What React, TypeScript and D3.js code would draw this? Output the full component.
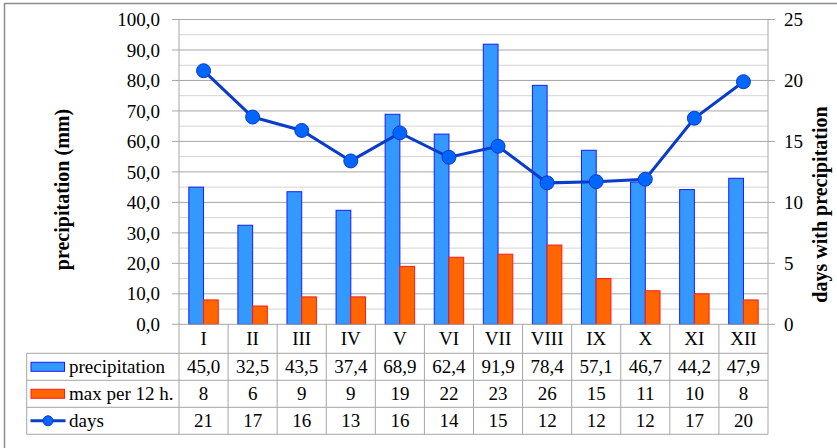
import React from "react";
import * as d3 from "d3";

const months = ["I", "II", "III", "IV", "V", "VI", "VII", "VIII", "IX", "X", "XI", "XII"];
const precipitation = [45.0, 32.5, 43.5, 37.4, 68.9, 62.4, 91.9, 78.4, 57.1, 46.7, 44.2, 47.9];
const maxPer12h = [8, 6, 9, 9, 19, 22, 23, 26, 15, 11, 10, 8];
// plotted days (the table shows them rounded)
const days = [20.8, 17.0, 15.9, 13.4, 15.7, 13.7, 14.6, 11.6, 11.7, 11.9, 16.9, 19.9];
const leftTicks = [0, 10, 20, 30, 40, 50, 60, 70, 80, 90, 100];
const rightTicks = [0, 5, 10, 15, 20, 25];
const seriesNames = ["precipitation", "max per 12 h.", "days"];

const W = 837;
const H = 448;
const plot = { left: 179, right: 768, top: 19.5, bottom: 324.3 };
const rowTops = [353.3, 380.3, 407.3, 434.3];
const legendLeft = 26.7;
const font = "Liberation Serif, Times New Roman, DejaVu Serif, serif";
const fs = 19;

const blueFill = "#3399ff";
const blueStroke = "#1a1aff";
const orangeFill = "#ff6600";
const orangeStroke = "#ff1a1a";
const lineColor = "#0a3ccc";
const dotFill = "#0066ff";
const gridMajor = "#a6a6a6";
const gridMinor = "#d4d4d4";
const tableLine = "#a6a6a6";

const comma1 = (v: number) => d3.format(".1f")(v).replace(".", ",");

export default function App() {
  const x = d3
    .scaleBand<string>()
    .domain(months)
    .range([plot.left, plot.right])
    .paddingInner(0.4)
    .paddingOuter(0.2);
  const step = x.step();
  const xs = d3
    .scaleBand<string>()
    .domain(["p", "m"])
    .range([0, x.bandwidth()]);
  const y = d3.scaleLinear().domain([0, 100]).range([plot.bottom, plot.top]);
  const yRight = d3.scaleLinear().domain([0, 25]).range([plot.bottom, plot.top]);
  const cx = (m: string) => (x(m) as number) + x.bandwidth() / 2;
  // band column edges
  const colLeft = (i: number) => plot.left + i * step;

  const line = d3
    .line<number>()
    .x((_, i) => cx(months[i]))
    .y((d) => yRight(d));

  const minorTicks = d3.range(5, 100, 10);

  const rows = [
    precipitation.map(comma1),
    maxPer12h.map((v) => d3.format(".0f")(v)),
    days.map((v) => d3.format(".0f")(v)),
  ];
  const rowMid = (r: number) => (rowTops[r] + rowTops[r + 1]) / 2;

  return (
    <svg
      width={W}
      height={H}
      style={{ position: "absolute", left: 0, top: 0, background: "#fff", fontFamily: font }}
    >
      <rect x={4.5} y={3.5} width={W + 10} height={H + 10} fill="#fff" stroke="#8c8c8c" strokeWidth={1.5} />

      {/* gridlines */}
      {minorTicks.map((t) => (
        <line key={"mn" + t} x1={plot.left} x2={plot.right} y1={y(t)} y2={y(t)} stroke={gridMinor} />
      ))}
      {leftTicks.slice(1).map((t) => (
        <line key={"mj" + t} x1={plot.left} x2={plot.right} y1={y(t)} y2={y(t)} stroke={gridMajor} />
      ))}

      {/* left axis */}
      <line x1={plot.left} x2={plot.left} y1={plot.top} y2={rowTops[3]} stroke={tableLine} />
      {leftTicks.map((t) => (
        <g key={"lt" + t}>
          <line x1={plot.left - 7} x2={plot.left} y1={y(t)} y2={y(t)} stroke={gridMajor} />
          <text x={160} y={y(t)} dy="0.35em" textAnchor="end" fontSize={fs} fill="#000">
            {comma1(t)}
          </text>
        </g>
      ))}

      {/* right axis */}
      <line x1={plot.right} x2={plot.right} y1={plot.top} y2={rowTops[3]} stroke={tableLine} />
      {rightTicks.map((t) => (
        <g key={"rt" + t}>
          <line x1={plot.right} x2={plot.right + 7} y1={yRight(t)} y2={yRight(t)} stroke={gridMajor} />
          <text x={784} y={yRight(t)} dy="0.35em" textAnchor="start" fontSize={fs} fill="#000">
            {t}
          </text>
        </g>
      ))}

      {/* bars */}
      {months.map((m, i) => (
        <g key={"b" + m}>
          <rect
            x={(x(m) as number) + (xs("p") as number)}
            y={y(precipitation[i])}
            width={xs.bandwidth()}
            height={plot.bottom - y(precipitation[i])}
            fill={blueFill}
            stroke={blueStroke}
            strokeWidth={1}
          />
          <rect
            x={(x(m) as number) + (xs("m") as number)}
            y={y(maxPer12h[i])}
            width={xs.bandwidth()}
            height={plot.bottom - y(maxPer12h[i])}
            fill={orangeFill}
            stroke={orangeStroke}
            strokeWidth={1}
          />
        </g>
      ))}

      {/* axis baseline */}
      <line x1={plot.left} x2={plot.right} y1={plot.bottom} y2={plot.bottom} stroke={gridMajor} />

      {/* days line */}
      <path d={line(days) || ""} fill="none" stroke={lineColor} strokeWidth={3} />
      {days.map((d, i) => (
        <circle key={"c" + i} cx={cx(months[i])} cy={yRight(d)} r={7} fill={dotFill} stroke={lineColor} strokeWidth={1} />
      ))}

      {/* axis titles */}
      <text
        transform={`translate(62,189.5) rotate(-90)`}
        textAnchor="middle"
        dy="0.35em"
        fontSize={20}
        fontWeight="bold"
      >
        precipitation (mm)
      </text>
      <text
        transform={`translate(820,204.5) rotate(-90)`}
        textAnchor="middle"
        dy="0.35em"
        fontSize={20}
        fontWeight="bold"
      >
        days with precipitation
      </text>

      {/* data table */}
      {rowTops.map((ry, i) => (
        <line key={"h" + i} x1={legendLeft} x2={plot.right} y1={ry} y2={ry} stroke={tableLine} />
      ))}
      <line x1={legendLeft} x2={legendLeft} y1={rowTops[0]} y2={rowTops[3]} stroke={tableLine} />
      {months.map((m, i) =>
        i === 0 ? null : (
          <line key={"v" + m} x1={colLeft(i)} x2={colLeft(i)} y1={plot.bottom} y2={rowTops[3]} stroke={tableLine} />
        )
      )}
      {months.map((m) => (
        <text key={"m" + m} x={cx(m)} y={(plot.bottom + rowTops[0]) / 2} dy="0.35em" textAnchor="middle" fontSize={fs}>
          {m}
        </text>
      ))}
      {rows.map((row, r) =>
        row.map((v, i) => (
          <text key={"t" + r + "-" + i} x={cx(months[i])} y={rowMid(r)} dy="0.35em" textAnchor="middle" fontSize={fs}>
            {v}
          </text>
        ))
      )}

      {/* legend keys */}
      <rect x={31} y={rowMid(0) - 4.5} width={33.5} height={9} fill={blueFill} stroke={blueStroke} />
      <rect x={31} y={rowMid(1) - 4.5} width={33.5} height={9} fill={orangeFill} stroke={orangeStroke} />
      <line x1={30.5} x2={65.5} y1={rowMid(2)} y2={rowMid(2)} stroke={lineColor} strokeWidth={3} />
      <circle cx={48} cy={rowMid(2)} r={5} fill={dotFill} stroke={lineColor} />
      {seriesNames.map((s, r) => (
        <text key={"s" + s} x={69} y={rowMid(r)} dy="0.35em" fontSize={fs}>
          {s}
        </text>
      ))}
    </svg>
  );
}
